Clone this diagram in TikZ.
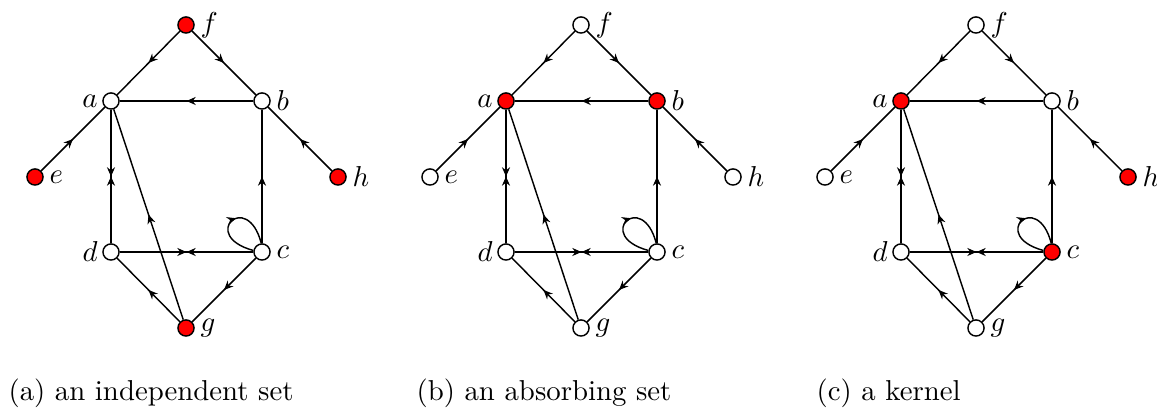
\documentclass[tikz,border=0pt]{standalone}
\usetikzlibrary{arrows.meta,decorations.markings}
\begin{document}
\begin{tikzpicture}[x=0.3472pt,y=-0.3472pt,
  v/.style={circle,draw,line width=0.5pt,minimum size=5.6pt,inner sep=0pt},
  ed/.style={line width=0.5pt,postaction={decorate},
    decoration={markings,mark=at position 0.5 with {\arrow{Stealth[length=3.2pt,width=2.8pt]}}}},
  loopedge/.style={line width=0.5pt,postaction={decorate},
    decoration={markings,mark=at position 0.56 with {\arrow{Stealth[length=3.2pt,width=2.8pt]}}}},
  labl/.style={label distance=-1.9pt},
  labr/.style={label distance=-1.5pt},
  captext/.style={anchor=base west,inner sep=0pt}
]
\useasboundingbox (0,0) rectangle (1157,409);
\foreach \o/\s/\ca/\cb/\cc/\cd/\ce/\cf/\cg/\ch in {0/A/white/white/white/white/red/red/red/red, 395/B/red/red/white/white/white/white/white/white, 790/C/red/white/red/white/white/white/white/red}{
  \begin{scope}[shift={(\o,0)}]
    \node[v,fill=\ca,label={[labl]left:$a$}]  (a\s) at (111,101) {};
    \node[v,fill=\cb,label={[labr]right:$b$}] (b\s) at (262,101) {};
    \node[v,fill=\cc,label={[labr]right:$c$}] (c\s) at (262,252) {};
    \node[v,fill=\cd,label={[labl]left:$d$}]  (d\s) at (111,252) {};
    \node[v,fill=\ce,label={[labr]right:$e$}] (e\s) at (35,177) {};
    \node[v,fill=\cf,label={[labr]right:$f$}] (f\s) at (186,25) {};
    \node[v,fill=\cg,label={[labr]right:$g$}] (g\s) at (186,328) {};
    \node[v,fill=\ch,label={[labr]right:$h$}] (h\s) at (338,177) {};
    \draw[ed] (f\s) -- (a\s);
    \draw[ed] (f\s) -- (b\s);
    \draw[ed] (b\s) -- (a\s);
    \draw[ed] (e\s) -- (a\s);
    \draw[ed] (h\s) -- (b\s);
    \draw[ed] (a\s) -- (d\s);
    \draw[ed] (d\s) -- (a\s);
    \draw[ed] (d\s) -- (c\s);
    \draw[ed] (c\s) -- (d\s);
    \draw[ed] (c\s) -- (b\s);
    \draw[ed] (c\s) -- (g\s);
    \draw[ed] (g\s) -- (d\s);
    \draw[ed] (g\s) -- (a\s);
    \draw[loopedge] (c\s.170) .. controls +(-55,-15) and +(-14,-54) .. (c\s.95);
  \end{scope}
}
\node[captext] (capA) at (8,401) {(a) an independent set};
\node[captext] (capB) at (416,401) {(b) an absorbing set};
\node[captext] (capC) at (816,401) {(c) a kernel};
\end{tikzpicture}
\end{document}
